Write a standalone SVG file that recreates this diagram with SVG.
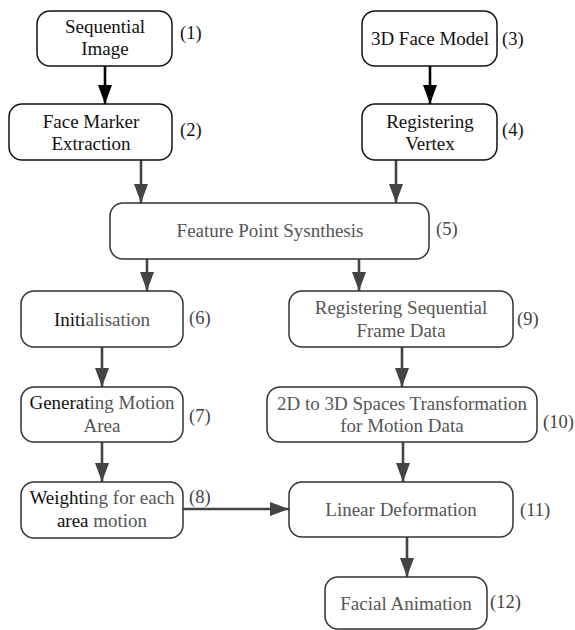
<svg xmlns="http://www.w3.org/2000/svg" width="575" height="630" viewBox="0 0 575 630" font-family="'Liberation Serif', 'DejaVu Serif', serif">
<defs>
<style>
.box{fill:#fff;stroke:#333;stroke-width:1.5}
text{font-family:'Liberation Serif','DejaVu Serif',serif}
.t{font-size:19px;text-anchor:middle;fill:#111}
.g{fill:#555}
.lb{font-size:18.5px;fill:#444}
.lk{fill:#111}
.c{fill:none;stroke:#444;stroke-width:2.6}
.cb{fill:none;stroke:#000;stroke-width:2.6}
</style>
<marker id="ah" markerUnits="userSpaceOnUse" markerWidth="20" markerHeight="14" refX="19" refY="7" orient="auto">
<path d="M0,0 L19,7 L0,14 z" fill="#444"/>
</marker>
<marker id="ahb" markerUnits="userSpaceOnUse" markerWidth="20" markerHeight="14" refX="19" refY="7" orient="auto">
<path d="M0,0 L19,7 L0,14 z" fill="#000"/>
</marker>
</defs>
<rect width="575" height="630" fill="#fff"/>
<g id="connectors">
<line class="cb" x1="105" y1="66" x2="105" y2="104" marker-end="url(#ahb)"/>
<line class="cb" x1="430" y1="66" x2="430" y2="104" marker-end="url(#ahb)"/>
<line class="c" x1="141" y1="160" x2="141" y2="203" marker-end="url(#ah)"/>
<line class="c" x1="396" y1="160" x2="396" y2="203" marker-end="url(#ah)"/>
<line class="c" x1="147" y1="259" x2="147" y2="291" marker-end="url(#ah)"/>
<line class="c" x1="359" y1="259" x2="359" y2="291" marker-end="url(#ah)"/>
<line class="c" x1="102" y1="347" x2="102" y2="387" marker-end="url(#ah)"/>
<line class="c" x1="402" y1="347" x2="402" y2="387" marker-end="url(#ah)"/>
<line class="c" x1="102" y1="442" x2="102" y2="482" marker-end="url(#ah)"/>
<line class="c" x1="403" y1="442" x2="403" y2="482" marker-end="url(#ah)"/>
<line class="c" x1="183" y1="509" x2="289" y2="509" marker-end="url(#ah)"/>
<line class="c" x1="407" y1="537" x2="407" y2="577" marker-end="url(#ah)"/>
</g>
<g id="n1">
<rect class="box" x="37" y="11" width="135" height="55" rx="13" style="stroke:#111"/>
<text class="t" x="105" y="33">Sequential</text>
<text class="t" x="105" y="55">Image</text>
<text class="lb lk" x="180" y="39">(1)</text>
</g>
<g id="n2">
<rect class="box" x="9" y="104" width="163" height="56" rx="13" style="stroke:#111"/>
<text class="t" x="91" y="128">Face Marker</text>
<text class="t" x="91" y="150">Extraction</text>
<text class="lb lk" x="180" y="136">(2)</text>
</g>
<g id="n3">
<rect class="box" x="362" y="11" width="135" height="55" rx="13" style="stroke:#111"/>
<text class="t" x="430" y="45">3D Face Model</text>
<text class="lb lk" x="502" y="45">(3)</text>
</g>
<g id="n4">
<rect class="box" x="362" y="104" width="135" height="56" rx="13" style="stroke:#111"/>
<text class="t" x="430" y="128">Registering</text>
<text class="t" x="430" y="150">Vertex</text>
<text class="lb lk" x="502" y="136">(4)</text>
</g>
<g id="n5">
<rect class="box" x="110" y="203" width="319" height="56" rx="13"/>
<text class="t g" x="270" y="237">Feature Point Sysnthesis</text>
<text class="lb" x="436" y="235">(5)</text>
</g>
<g id="n6">
<rect class="box" x="21" y="291" width="162" height="56" rx="13"/>
<text class="t" x="102" y="326">Initi<tspan class="g">alisation</tspan></text>
<text class="lb" x="189" y="324">(6)</text>
</g>
<g id="n7">
<rect class="box" x="21" y="387" width="162" height="55" rx="13"/>
<text class="t" x="102" y="409">Generat<tspan class="g">ing Motion</tspan></text>
<text class="t g" x="102" y="432">Area</text>
<text class="lb" x="189" y="422">(7)</text>
</g>
<g id="n8">
<rect class="box" x="21" y="482" width="162" height="56" rx="13"/>
<text class="t" x="102" y="504">Weighti<tspan class="g">ng for each</tspan></text>
<text class="t" x="102" y="527">area <tspan class="g">motion</tspan></text>
<text class="lb" x="189" y="503">(8)</text>
</g>
<g id="n9">
<rect class="box" x="289" y="291" width="224" height="56" rx="13"/>
<text class="t g" x="401" y="314">Registering Sequential</text>
<text class="t g" x="401" y="337">Frame Data</text>
<text class="lb" x="517" y="325">(9)</text>
</g>
<g id="n10">
<rect class="box" x="267" y="387" width="270" height="55" rx="13"/>
<text class="t g" x="402" y="410">2D to 3D Spaces Transformation</text>
<text class="t g" x="402" y="432">for Motion Data</text>
<text class="lb" x="543" y="428">(10)</text>
</g>
<g id="n11">
<rect class="box" x="289" y="482" width="224" height="55" rx="13"/>
<text class="t g" x="401" y="516">Linear Deformation</text>
<text class="lb" x="520" y="516">(11)</text>
</g>
<g id="n12">
<rect class="box" x="325" y="577" width="162" height="52" rx="13"/>
<text class="t g" x="406" y="610">Facial Animation</text>
<text class="lb" x="490" y="608">(12)</text>
</g>
</svg>
